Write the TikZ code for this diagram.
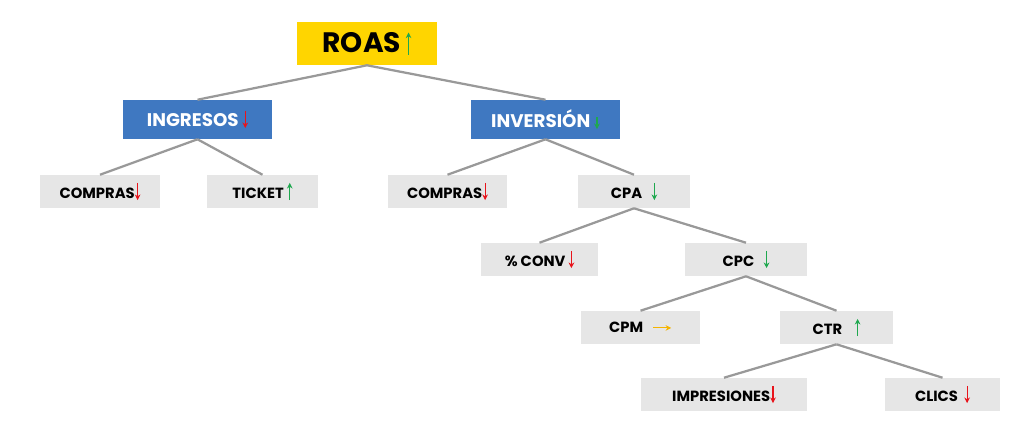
\documentclass[tikz,border=0pt]{standalone}
\usepackage{fontspec}
\setmainfont{Poppins}
\usetikzlibrary{arrows.meta}
\definecolor{gold}{HTML}{FFD500}
\definecolor{blu}{HTML}{3F78C1}
\definecolor{gry}{HTML}{E6E6E6}
\definecolor{lin}{HTML}{999999}
\definecolor{ared}{HTML}{E8141B}
\definecolor{agrn}{HTML}{1FA84F}
\definecolor{aorg}{HTML}{F5B400}
\tikzset{mini/.style={x=1cm,y=1cm,baseline=0pt}, tip/.style={line width=0.8pt,-{Stealth[length=4pt,width=4pt]}}}
\newcommand{\au}[2][0.38]{\tikz[mini]\draw[#2,tip] (0,-0.05) -- (0,#1);}
\newcommand{\ad}[2][0.38]{\tikz[mini]\draw[#2,tip] (0,#1) -- (0,-0.05);}
\newcommand{\ar}[1]{\tikz[mini]\draw[#1,tip] (0,0.12) -- (0.45,0.12);}
\begin{document}
\begin{tikzpicture}[x=0.025cm,y=-0.025cm,
  box/.style={fill=gry,minimum width=#1*0.025cm,minimum height=0.825cm,inner sep=0pt,font=\bfseries\fontsize{10.5}{12}\selectfont},
  bbox/.style={fill=blu,text=white,minimum width=149*0.025cm,minimum height=0.975cm,inner sep=0pt,font=\bfseries\fontsize{13}{15}\selectfont},
  ln/.style={lin,line width=1.6pt}]
\useasboundingbox (0,0) rectangle (1024,435);
\node[fill=gold,minimum width=3.5cm,minimum height=1.075cm,inner sep=0pt,font=\bfseries\fontsize{20}{24}\selectfont] (roas) at (367,43.5) {ROAS\,\au[0.5]{agrn}};
\node[bbox] (ing) at (197.5,119.5) {INGRESOS\ \ad{ared}};
\node[bbox] (inv) at (545.5,119.5) {INVERSIÓN\ \ad[0.25]{agrn}};
\node[box=120] (c1) at (100,191.5) {COMPRAS\ad{ared}};
\node[box=111] (tk) at (262.5,191.5) {TICKET\ \au{agrn}};
\node[box=119] (c2) at (447.5,191.5) {COMPRAS\ad{ared}};
\node[box=112] (cpa) at (634,191.5) {CPA\ \ \ \ad{agrn}};
\node[box=117] (cv) at (539.5,259.5) {\% CONV\ \ad{ared}};
\node[box=122] (cpc) at (746,259.5) {CPC\ \ \ \ad{agrn}};
\node[box=119] (cpm) at (640.5,327.5) {CPM\ \ \ \ar{aorg}};
\node[box=113] (ctr) at (836.5,327.5) {CTR\ \ \ \ \au{agrn}};
\node[box=166] (imp) at (724,394.5) {IMPRESIONES\ad{ared}};
\node[box=115] (cl) at (942.5,394.5) {CLICS\ \ \ad{ared}};
\draw[ln] (roas.south) -- (ing.north); \draw[ln] (roas.south) -- (inv.north);
\draw[ln] (ing.south) -- (c1.north); \draw[ln] (ing.south) -- (tk.north);
\draw[ln] (inv.south) -- (c2.north); \draw[ln] (inv.south) -- (cpa.north);
\draw[ln] (cpa.south) -- (cv.north); \draw[ln] (cpa.south) -- (cpc.north);
\draw[ln] (cpc.south) -- (cpm.north); \draw[ln] (cpc.south) -- (ctr.north);
\draw[ln] (ctr.south) -- (imp.north); \draw[ln] (ctr.south) -- (cl.north);
\end{tikzpicture}
\end{document}
